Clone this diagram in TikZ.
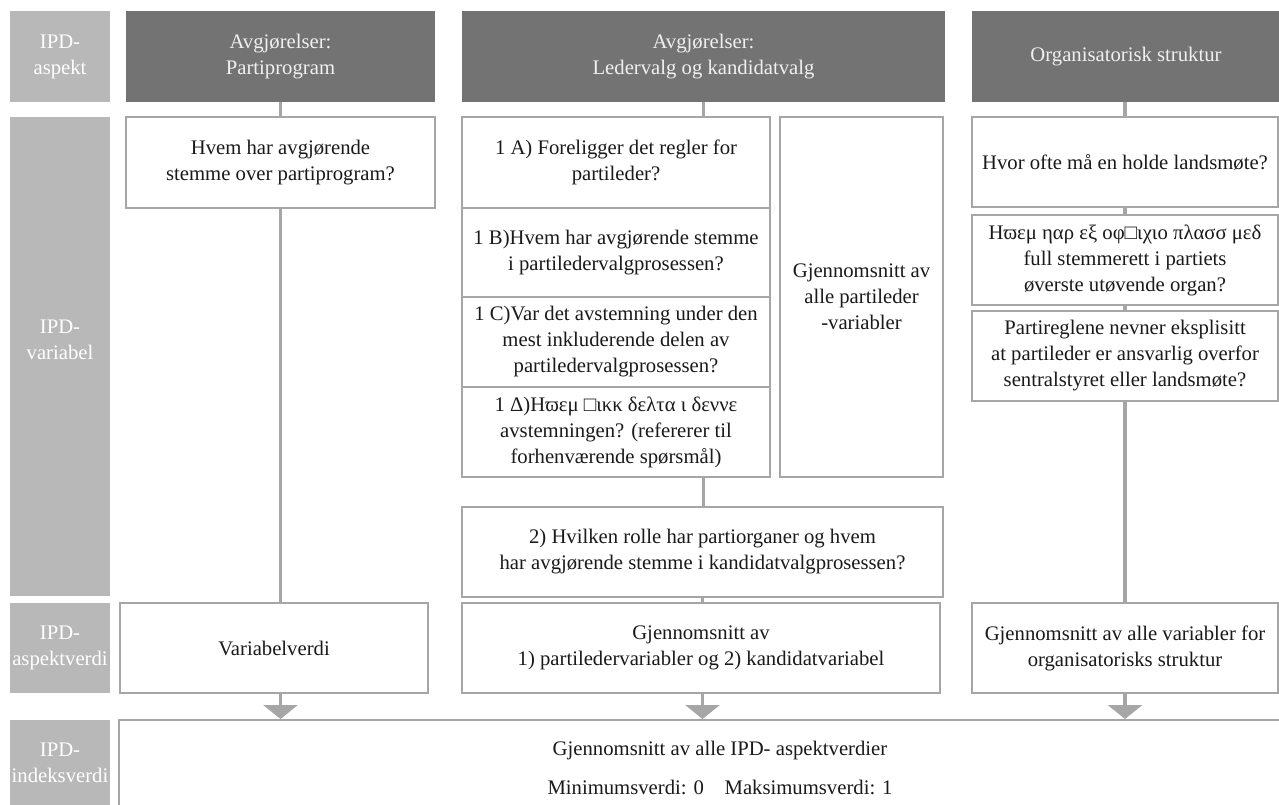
\documentclass[tikz,border=0pt]{standalone}
\usepackage{fontspec}
\setmainfont{Liberation Serif}
\usetikzlibrary{arrows.meta}
\definecolor{lbl}{HTML}{B8B8B8}
\definecolor{hdr}{HTML}{737373}
\definecolor{brd}{HTML}{A6A6A6}
\definecolor{txt}{HTML}{1A1A1A}
\tikzset{
  base/.style={inner sep=0pt, align=center, font=\fontsize{20.7}{26}\selectfont},
  lblbox/.style={base, fill=lbl, text=white},
  hdrbox/.style={base, fill=hdr, text=white!94!black},
  qbox/.style={base, draw=brd, line width=2pt, fill=white, text=txt},
  conn/.style={draw=brd, line width=3.5pt},
  sidetip/.style={draw=none, -{Triangle[length=7pt,width=11pt]}, brd, line width=0.1pt},
  downtip/.style={conn, -{Triangle[length=14pt,width=34pt]}},
}
\begin{document}
\begin{tikzpicture}[x=1pt,y=-1pt]
\useasboundingbox (0,0) rectangle (1279,805);
% row labels
\node[lblbox, minimum width=100, minimum height=91] (la) at (60,56.5) {IPD-\\aspekt};
\node[lblbox, minimum width=100, minimum height=479] (lv) at (60,356.5) {};
\node[base, text=white] (lvt) at (60,340) {IPD-\\variabel};
\node[lblbox, minimum width=100, minimum height=90] (lav) at (60,648) {IPD-\\aspektverdi};
\node[lblbox, minimum width=100, minimum height=85] (li) at (60,762.5) {IPD-\\indeksverdi};
% headers
\node[hdrbox, minimum width=309, minimum height=91] (h1) at (280.5,56.5) {Avgjørelser:\\Partiprogram};
\node[hdrbox, minimum width=483, minimum height=91] (h2) at (703.5,56.5) {Avgjørelser:\\Ledervalg og kandidatvalg};
\node[hdrbox, minimum width=308, minimum height=91] (h3) at (1126,56.5) {Organisatorisk struktur};
% column 1
\node[qbox, minimum width=309, minimum height=91] (q1) at (280.5,162.5) {Hvem har avgjørende\\stemme over partiprogram?};
\node[qbox, minimum width=308, minimum height=90] (v1) at (274,648) {Variabelverdi};
% column 2
\node[qbox, minimum width=308, minimum height=91] (a1) at (616,162.5) {1 A) Foreligger det regler for\\partileder?};
\node[qbox, minimum width=308, minimum height=89] (b1) at (616,252.5) {1 B)Hvem har avgjørende stemme\\i partiledervalgprosessen?};
\node[qbox, minimum width=308, minimum height=90] (c1) at (616,342) {1 C)Var det avstemning under den\\mest inkluderende delen av\\partiledervalgprosessen?};
\node[qbox, minimum width=308, minimum height=90] (d1) at (616,432) {1 Δ)Hϖεμ □ικκ δελτα ι δεννε\\avstemningen? (refererer til\\forhenværende spørsmål)};
\node[qbox, minimum width=163, minimum height=360] (pl) at (861.5,297) {Gjennomsnitt av\\alle partileder\\-variabler};
\node[qbox, minimum width=481, minimum height=90] (k2) at (702.5,552) {2) Hvilken rolle har partiorganer og hvem\\har avgjørende stemme i kandidatvalgprosessen?};
\node[qbox, minimum width=478, minimum height=90] (v2) at (701,648) {Gjennomsnitt av\\1) partiledervariabler og 2) kandidatvariabel};
% column 3
\node[qbox, minimum width=306, minimum height=90] (o1) at (1125,162) {Hvor ofte må en holde landsmøte?};
\node[qbox, minimum width=306, minimum height=90] (o2) at (1125,260) {Ηϖεμ ηαρ εξ οφ□ιχιο πλασσ μεδ\\full stemmerett i partiets\\øverste utøvende organ?};
\node[qbox, minimum width=306, minimum height=90] (o3) at (1125,356) {Partireglene nevner eksplisitt\\at partileder er ansvarlig overfor\\sentralstyret eller landsmøte?};
\node[qbox, minimum width=306, minimum height=90] (v3) at (1125,648) {Gjennomsnitt av alle variabler for\\organisatorisks struktur};
% bottom box
\node[qbox, minimum width=1162, minimum height=90] (ix) at (700,765) {};
\node[base, text=txt] (ixt1) at (720,751) {Gjennomsnitt av alle IPD- aspektverdier};
\node[base, text=txt] (ixt2) at (720,787) {Minimumsverdi: 0\quad Maksimumsverdi: 1};
% connectors column 1
\draw[conn] (h1.south -| q1.north) -- (q1.north);
\draw[conn] (q1.south) -- (q1.south |- v1.north);
\draw[downtip] (q1.south |- v1.south) -- (q1.south |- ix.north);
% connectors column 2
\draw[conn] (h2.south) -- (h2.south |- a1.north);
\draw[conn] (h2.south |- d1.south) -- (h2.south |- k2.north);
\draw[conn] (k2.south) -- (k2.south |- v2.north);
\draw[downtip] (k2.south |- v2.south) -- (k2.south |- ix.north);
\draw[sidetip] (a1.east) -- ([xshift=-1pt]pl.west |- a1.east);
\draw[sidetip] (b1.east) -- ([xshift=-1pt]pl.west |- b1.east);
\draw[sidetip] (c1.east) -- ([xshift=-1pt]pl.west |- c1.east);
\draw[sidetip] (d1.east) -- ([xshift=-1pt]pl.west |- d1.east);
% connectors column 3
\draw[conn] (h3.south -| o1.north) -- (o1.north);
\draw[conn] (o1.south) -- (o2.north);
\draw[conn] (o2.south) -- (o3.north);
\draw[conn] (o3.south) -- (v3.north);
\draw[downtip] (v3.south) -- (v3.south |- ix.north);
\end{tikzpicture}
\end{document}
